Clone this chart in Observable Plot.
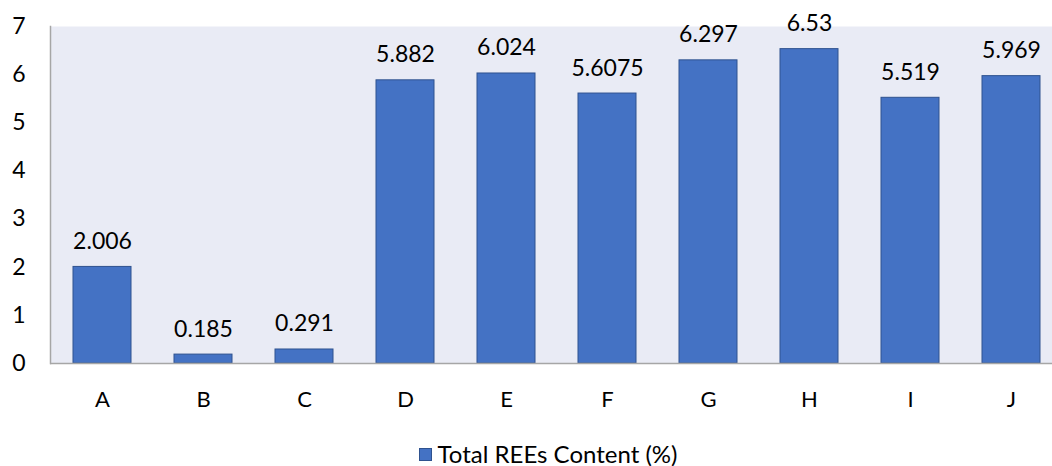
<!DOCTYPE html>
<html>
<head>
<meta charset="utf-8">
<script src="https://cdn.jsdelivr.net/npm/d3@7"></script>
<script src="https://cdn.jsdelivr.net/npm/@observablehq/plot@0.6"></script>
<style>
  body { margin: 0; background: #fff; font-family: Lato, "Open Sans", sans-serif; overflow: hidden; }
  #chart svg { display: block; }
  .legend { display: flex; justify-content: center; align-items: center; gap: 6px; box-sizing: border-box;
            font-size: 24px; line-height: 24px; color: #000; height: 41px; padding-top: 17px; padding-left: 44px; }
  .legend .swatch { width: 13px; height: 13px; background: #4472C4; border: 1px solid #2f528f; box-sizing: border-box; }
</style>
</head>
<body>
<div id="chart"></div>
<div class="legend"><span class="swatch"></span><span>Total REEs Content (%)</span></div>
<script>
const categories = ["A", "B", "C", "D", "E", "F", "G", "H", "I", "J"];
const values = [2.006, 0.185, 0.291, 5.882, 6.024, 5.6075, 6.297, 6.53, 5.519, 5.969];
const valueLabels = ["2.006", "0.185", "0.291", "5.882", "6.024", "5.6075", "6.297", "6.53", "5.519", "5.969"];
const yTicks = [0, 1, 2, 3, 4, 5, 6, 7];

const data = categories.map((c, i) => ({ category: c, value: values[i], label: valueLabels[i] }));

// The category band runs slightly past the right edge of the page, so the last bar sits near the border.
const chart = Plot.plot({
  width: 1052,
  height: 425,
  marginLeft: 50,
  marginRight: 0,
  marginTop: 26,
  marginBottom: 62,
  style: { fontFamily: "Lato, 'Open Sans', sans-serif", fontSize: "23px", color: "#000", background: "#fff" },
  x: { domain: categories, range: [50, 1063], paddingInner: 0.427, paddingOuter: 0.2135, label: null },
  y: { domain: [0, 7], label: null },
  marks: [
    Plot.frame({ fill: "#e9ebf5", stroke: null }),
    Plot.barY(data, { x: "category", y: "value", fill: "#4472C4", stroke: "#2f528f", strokeWidth: 1 }),
    Plot.text(data, { x: "category", y: "value", text: "label", lineAnchor: "bottom", dy: -18, fontSize: 23, fill: "#000" }),
    Plot.ruleY([0], { stroke: "#a6a6a6", strokeWidth: 1.5 }),
    Plot.frame({ anchor: "left", stroke: "#a6a6a6", strokeWidth: 1.5 }),
    Plot.axisY({ ticks: yTicks, tickSize: 0, tickPadding: 25, tickFormat: d => String(d), label: null, fontSize: 23 }),
    Plot.axisX({ tickSize: 0, tickPadding: 28, label: null, fontSize: 22 })
  ]
});
document.getElementById("chart").appendChild(chart);
</script>
</body>
</html>
